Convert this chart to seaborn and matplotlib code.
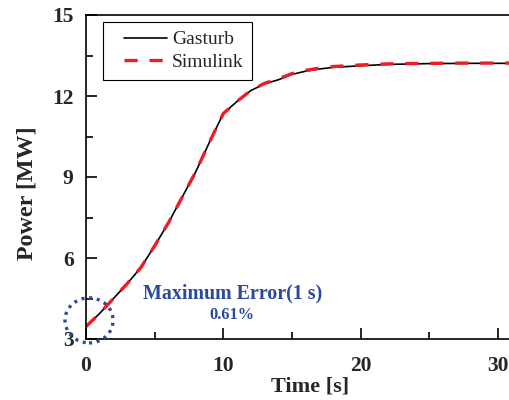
import matplotlib
matplotlib.use("Agg")
import matplotlib.pyplot as plt
import seaborn as sns
import pandas as pd
import numpy as np
from matplotlib.patches import Ellipse
from matplotlib.legend_handler import HandlerLine2D

time_s = [0, 1, 2, 3, 4, 5, 6, 7, 8, 9, 10, 11, 12, 13, 14, 15, 16, 17, 18, 20, 22, 25, 28, 31, 35]
gasturb = [3.46, 3.95, 4.5, 5.05, 5.65, 6.45, 7.3, 8.25, 9.2, 10.3, 11.35, 11.8, 12.2, 12.45, 12.6,
           12.8, 12.92, 13.0, 13.06, 13.12, 13.17, 13.2, 13.21, 13.21, 13.21]
simulink = [3.46, 3.95, 4.5, 5.05, 5.65, 6.45, 7.3, 8.25, 9.2, 10.3, 11.35, 11.8, 12.2, 12.47, 12.63,
            12.83, 12.95, 13.03, 13.09, 13.15, 13.19, 13.21, 13.22, 13.22, 13.22]
x_ticks = [0, 10, 20, 30]
y_ticks = [3, 6, 9, 12, 15]
annot_title = "Maximum Error(1 s)"
annot_value = "0.61%"

sns.set_style("white")
plt.rcParams['font.family'] = ['Liberation Serif', 'DejaVu Serif']
plt.rcParams['lines.scale_dashes'] = False

df = pd.DataFrame({"Time": time_s, "Gasturb": gasturb, "Simulink": simulink})

fig = plt.figure(figsize=(5.1, 4.0), dpi=100)
ax = fig.add_axes([86/510, 61/400, 480.6/510, 324/400])

sns.lineplot(data=df, x="Time", y="Gasturb", ax=ax, color="black", lw=1.2, label="Gasturb")
sns.lineplot(data=df, x="Time", y="Simulink", ax=ax, color="#ee1c24", lw=2.4,
             dashes=False, label="Simulink")
ax.lines[1].set_linestyle((0, (9.5, 8.5)))

ax.set_xlim(0, 35)
ax.set_ylim(3, 15)
ax.set_xticks(x_ticks)
ax.set_yticks(y_ticks)
ax.set_xticks([5, 15, 25, 35], minor=True)
ax.set_yticks([4.5, 7.5, 10.5, 13.5], minor=True)
ax.tick_params(which="both", bottom=True, left=True, top=False, right=False)
ax.tick_params(which="major", direction="in", length=8, width=1.2, labelsize=15.5, color="black")
ax.tick_params(which="minor", direction="in", length=5, width=1.2, color="black")
ax.tick_params(axis="x", which="major", pad=12)
ax.tick_params(axis="y", which="major", pad=9)
for lab in ax.get_xticklabels() + ax.get_yticklabels():
    lab.set_fontweight("bold")
for s in ax.spines.values():
    s.set_linewidth(1.2)
    s.set_color("black")

ax.set_xlabel("Time [s]", fontsize=16, fontweight="bold")
ax.set_ylabel("Power [MW]", fontsize=17.3, fontweight="bold")
ax.xaxis.set_label_coords((310 - 86) / 480.6, -(376 - 339) / 324)
ax.yaxis.set_label_coords((38 - 86) / 480.6, (339 - 193) / 324)


class OffsetLine(HandlerLine2D):
    frac = 12 / 55

    def create_artists(self, legend, orig_handle, xdescent, ydescent, width, height, fontsize, trans):
        arts = super().create_artists(legend, orig_handle, xdescent, ydescent, width, height, fontsize, trans)
        for a in arts:
            xd = np.asarray(a.get_xdata(), dtype=float)
            if xd.size >= 2:
                x0, x1 = xd.min(), xd.max()
                a.set_xdata(np.linspace(x0 + self.frac * (x1 - x0), x1, xd.size))
        return arts


handles, labels = ax.get_legend_handles_labels()
leg = ax.legend(handles, labels, loc="upper left", bbox_to_anchor=(17/480.6, 1 - 7/324),
                borderaxespad=0, fancybox=False, edgecolor="black", fontsize=14,
                handlelength=2.83, handletextpad=0.26, borderpad=0.45, labelspacing=0.25,
                framealpha=1, handler_map={h: OffsetLine() for h in handles})
leg.get_frame().set_linewidth(0.8)

blue = "#2a4aa0"
ax.add_patch(Ellipse((0.22, 3.69), 3.5, 1.67, fill=False, edgecolor=blue, lw=2.4,
                     ls=(0, (2.2, 3.4)), clip_on=False, zorder=5))
ax.text(10.67, 4.70, annot_title, color=blue, fontsize=14.4, fontweight="bold", ha="center", va="center")
ax.text(10.6, 3.89, annot_value, color=blue, fontsize=11.8, fontweight="bold", ha="center", va="center")

fig.savefig("out.png", dpi=100)
